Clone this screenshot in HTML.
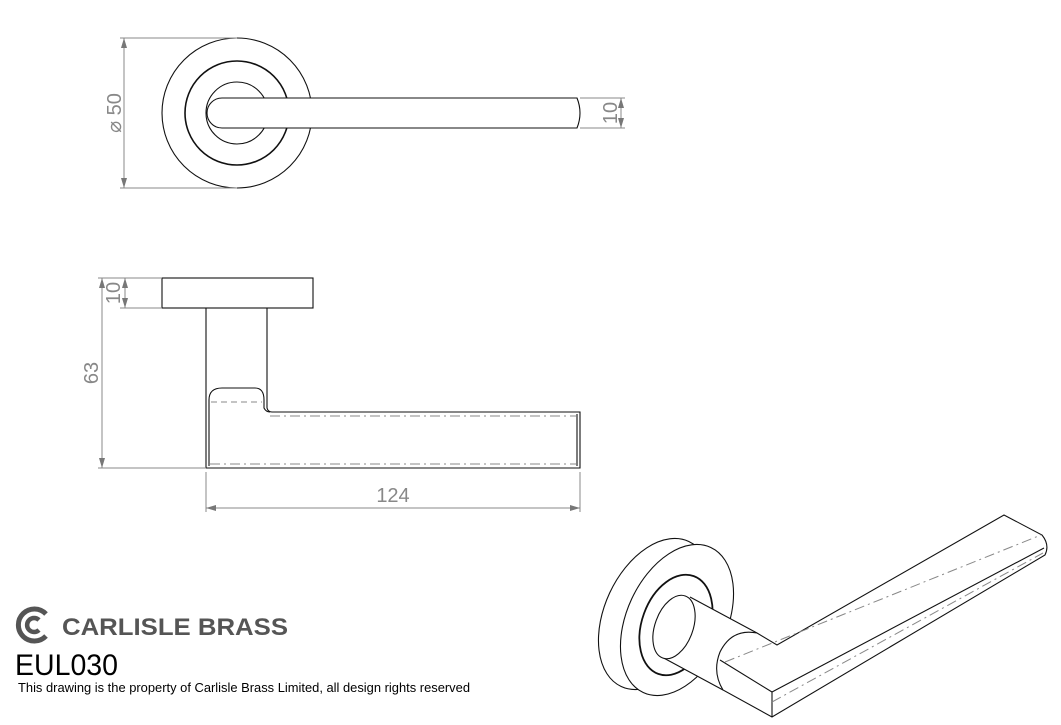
<!DOCTYPE html>
<html><head><meta charset="utf-8"><style>
html,body{margin:0;padding:0;background:#fff;}
svg{display:block;}
</style></head><body>
<svg width="1061" height="725" viewBox="0 0 1061 725" xmlns="http://www.w3.org/2000/svg" font-family="Liberation Sans, sans-serif">
<defs>
<marker id="ar" viewBox="0 0 10 6" refX="10" refY="3" markerWidth="10" markerHeight="6" orient="auto-start-reverse" markerUnits="userSpaceOnUse"><path d="M0,0 L10,3 L0,6 z" fill="#777"/></marker>
</defs>
<g fill="none" stroke="#111" stroke-width="1.1">
<!-- top view -->
<circle cx="237" cy="113" r="75"/>
<circle cx="237" cy="113" r="52" stroke-width="1.6"/>
<circle cx="237" cy="113" r="31"/>
<path d="M222,98 L577,98 Q583,113 577,128 L222,128 A15,15 0 0 1 222,98 Z" fill="#fff"/>
<!-- side view -->
<rect x="162" y="278" width="151" height="30"/>
<path d="M206,308 L206,468 L580,468 L580,412 L272,412 Q268,412 267,408 L267,308"/>
<path d="M209,466 L209,400 Q209,388 222,388 L255,388 Q264,388 264,400 L264,408 Q266,412 270,412" />
<line x1="577" y1="414" x2="577" y2="466"/>
<!-- iso view -->
<ellipse cx="655" cy="614" rx="50" ry="80" transform="rotate(25 655 614)" fill="#fff"/>
<ellipse cx="677" cy="620" rx="50" ry="80" transform="rotate(25 677 620)" fill="#fff"/>
<ellipse cx="676" cy="625" rx="34" ry="52" transform="rotate(20 676 625)" stroke-width="1.8" fill="#fff"/>
<polygon points="690,597 757,633 723,690 660,656" fill="#fff" stroke="none"/>
<line x1="690" y1="597" x2="757" y2="633"/>
<line x1="660" y1="656" x2="723" y2="690"/>
<ellipse cx="674" cy="627" rx="19" ry="33" transform="rotate(20 674 627)" fill="#fff"/>
<path d="M757,633 L777,645 L1004,515 L1042,535 Q1050,545 1045,555 L772,717 L723,690 Q712,672 720,652 Q732,628 757,633 Z" fill="#fff"/>
<line x1="720" y1="660" x2="772" y2="692"/>
<line x1="772" y1="692" x2="772" y2="717"/>
<line x1="772" y1="692" x2="1044" y2="548"/>
</g>
<g fill="none" stroke="#888" stroke-width="1" stroke-dasharray="10,4,2,4">
<line x1="211" y1="402" x2="262" y2="402" stroke-dasharray="6,4"/>
<line x1="270" y1="416" x2="576" y2="416"/>
<line x1="210" y1="464" x2="576" y2="464"/>
<line x1="725" y1="662" x2="1041" y2="535"/>
<line x1="772" y1="702" x2="1043" y2="553"/>
</g>
<!-- dimensions -->
<g stroke="#888" stroke-width="1" fill="none">
<line x1="120" y1="38" x2="237" y2="38"/>
<line x1="120" y1="188" x2="237" y2="188"/>
<line x1="124" y1="38" x2="124" y2="188" marker-start="url(#ar)" marker-end="url(#ar)"/>
<line x1="580" y1="98" x2="625" y2="98"/>
<line x1="580" y1="128" x2="625" y2="128"/>
<line x1="621" y1="98" x2="621" y2="128" marker-start="url(#ar)" marker-end="url(#ar)"/>
<line x1="98" y1="278" x2="162" y2="278"/>
<line x1="120" y1="308" x2="162" y2="308"/>
<line x1="125" y1="278" x2="125" y2="308" marker-start="url(#ar)" marker-end="url(#ar)"/>
<line x1="98" y1="468" x2="206" y2="468"/>
<line x1="102" y1="278" x2="102" y2="468" marker-start="url(#ar)" marker-end="url(#ar)"/>
<line x1="206" y1="472" x2="206" y2="512"/>
<line x1="580" y1="472" x2="580" y2="512"/>
<line x1="206" y1="508" x2="580" y2="508" marker-start="url(#ar)" marker-end="url(#ar)"/>
</g>
<g fill="#888" font-size="20">
<text transform="translate(121,113) rotate(-90)" text-anchor="middle">⌀ 50</text>
<text transform="translate(617,113) rotate(-90)" text-anchor="middle">10</text>
<text transform="translate(120,293) rotate(-90)" text-anchor="middle">10</text>
<text transform="translate(98,373) rotate(-90)" text-anchor="middle">63</text>
<text x="393" y="502" text-anchor="middle">124</text>
</g>
<!-- logo -->
<g fill="none" stroke="#555">
<path d="M46,614 A16,16 0 1 0 46,636" stroke-width="5"/>
<path d="M39,620 A7,7 0 1 0 39,630" stroke-width="4.5"/>
</g>
<text x="62" y="635" font-size="24" font-weight="bold" fill="#555" textLength="226" lengthAdjust="spacingAndGlyphs">CARLISLE BRASS</text>
<text x="15" y="675" font-size="30" fill="#000" textLength="103" lengthAdjust="spacingAndGlyphs">EUL030</text>
<text x="18" y="692" font-size="12.5" fill="#000" textLength="452" lengthAdjust="spacingAndGlyphs">This drawing is the property of Carlisle Brass Limited, all design rights reserved</text>
</svg>
</body></html>
